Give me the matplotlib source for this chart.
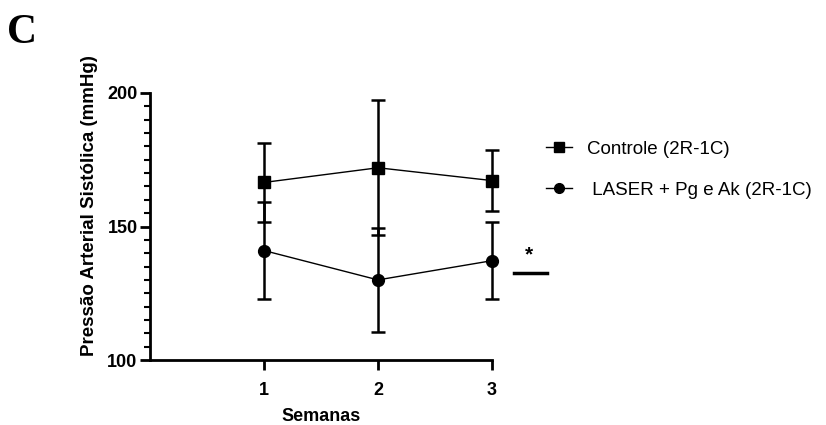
import numpy as np
import matplotlib
matplotlib.use("Agg")
import matplotlib.pyplot as plt
from matplotlib.ticker import MultipleLocator
from matplotlib.lines import Line2D

# Données (moyenne ± DP)
semanas = [1, 2, 3]
controle = [166.5, 172.0, 167.2]
controle_dp = [14.7, 25.3, 11.5]
laser = [141.0, 130.0, 137.2]
laser_dp = [18.3, 19.4, 14.5]
labels = ["Controle (2R-1C)", " LASER + Pg e Ak (2R-1C)"]

plt.rcParams['font.family'] = ['Liberation Sans', 'DejaVu Sans']

fig = plt.figure(figsize=(8.26, 4.25), dpi=100)
ax = fig.add_axes([0.1816, 0.1529, 0.414, 0.6283])

for y, dp, m in [(controle, controle_dp, 's'), (laser, laser_dp, 'o')]:
    ebar = ax.errorbar(semanas, y, yerr=dp, color='black', marker=m, markersize=8.5,
                       linewidth=1, elinewidth=1.8, capsize=5, capthick=1.8, zorder=3)
    for art in [ebar.lines[0]] + list(ebar.lines[1]) + list(ebar.lines[2]):
        art.set_clip_on(False)

ax.set_xlim(0, 3)
ax.set_ylim(100, 200)
ax.set_xticks(semanas)
ax.set_yticks([100, 150, 200])
ax.yaxis.set_minor_locator(MultipleLocator(5))

for s in ['top', 'right']:
    ax.spines[s].set_visible(False)
for s in ['left', 'bottom']:
    ax.spines[s].set_linewidth(2)
ax.tick_params(axis='both', which='major', width=2, length=7, labelsize=13)
ax.tick_params(axis='x', pad=9)
ax.tick_params(axis='y', pad=2)
ax.tick_params(axis='y', which='minor', width=1.5, length=4)
for t in ax.get_xticklabels() + ax.get_yticklabels():
    t.set_fontweight('bold')

ax.set_xlabel('Semanas', fontsize=13, fontweight='bold', labelpad=6.5)
ax.set_ylabel('Pressão Arterial Sistólica (mmHg)', fontsize=13.5, fontweight='bold')
ax.yaxis.set_label_coords(-0.152, 0.577)

# Légende
handles = [Line2D([], [], color='black', marker='s', markersize=7, linewidth=1),
           Line2D([], [], color='black', marker='o', markersize=7, linewidth=1)]
ax.legend(handles, labels, loc='upper left', bbox_to_anchor=(538 / 826, 1 - 133 / 425),
          bbox_transform=fig.transFigure, frameon=False, fontsize=13.5,
          handlelength=1.4, handletextpad=0.8, labelspacing=1.27, borderaxespad=0)

# Significance
fig.text(529 / 826, 1 - 255 / 425, '*', ha='center', va='center', fontsize=15, fontweight='bold')
fig.add_artist(Line2D([514 / 826, 547 / 826], [1 - 273 / 425, 1 - 273 / 425],
                      color='black', linewidth=2.5))

fig.text(22 / 826, 1 - 33 / 425, 'C', ha='center', va='center', fontsize=30, fontweight='bold',
         family=['Liberation Serif', 'DejaVu Serif'])

plt.savefig('out.png', dpi=100)
